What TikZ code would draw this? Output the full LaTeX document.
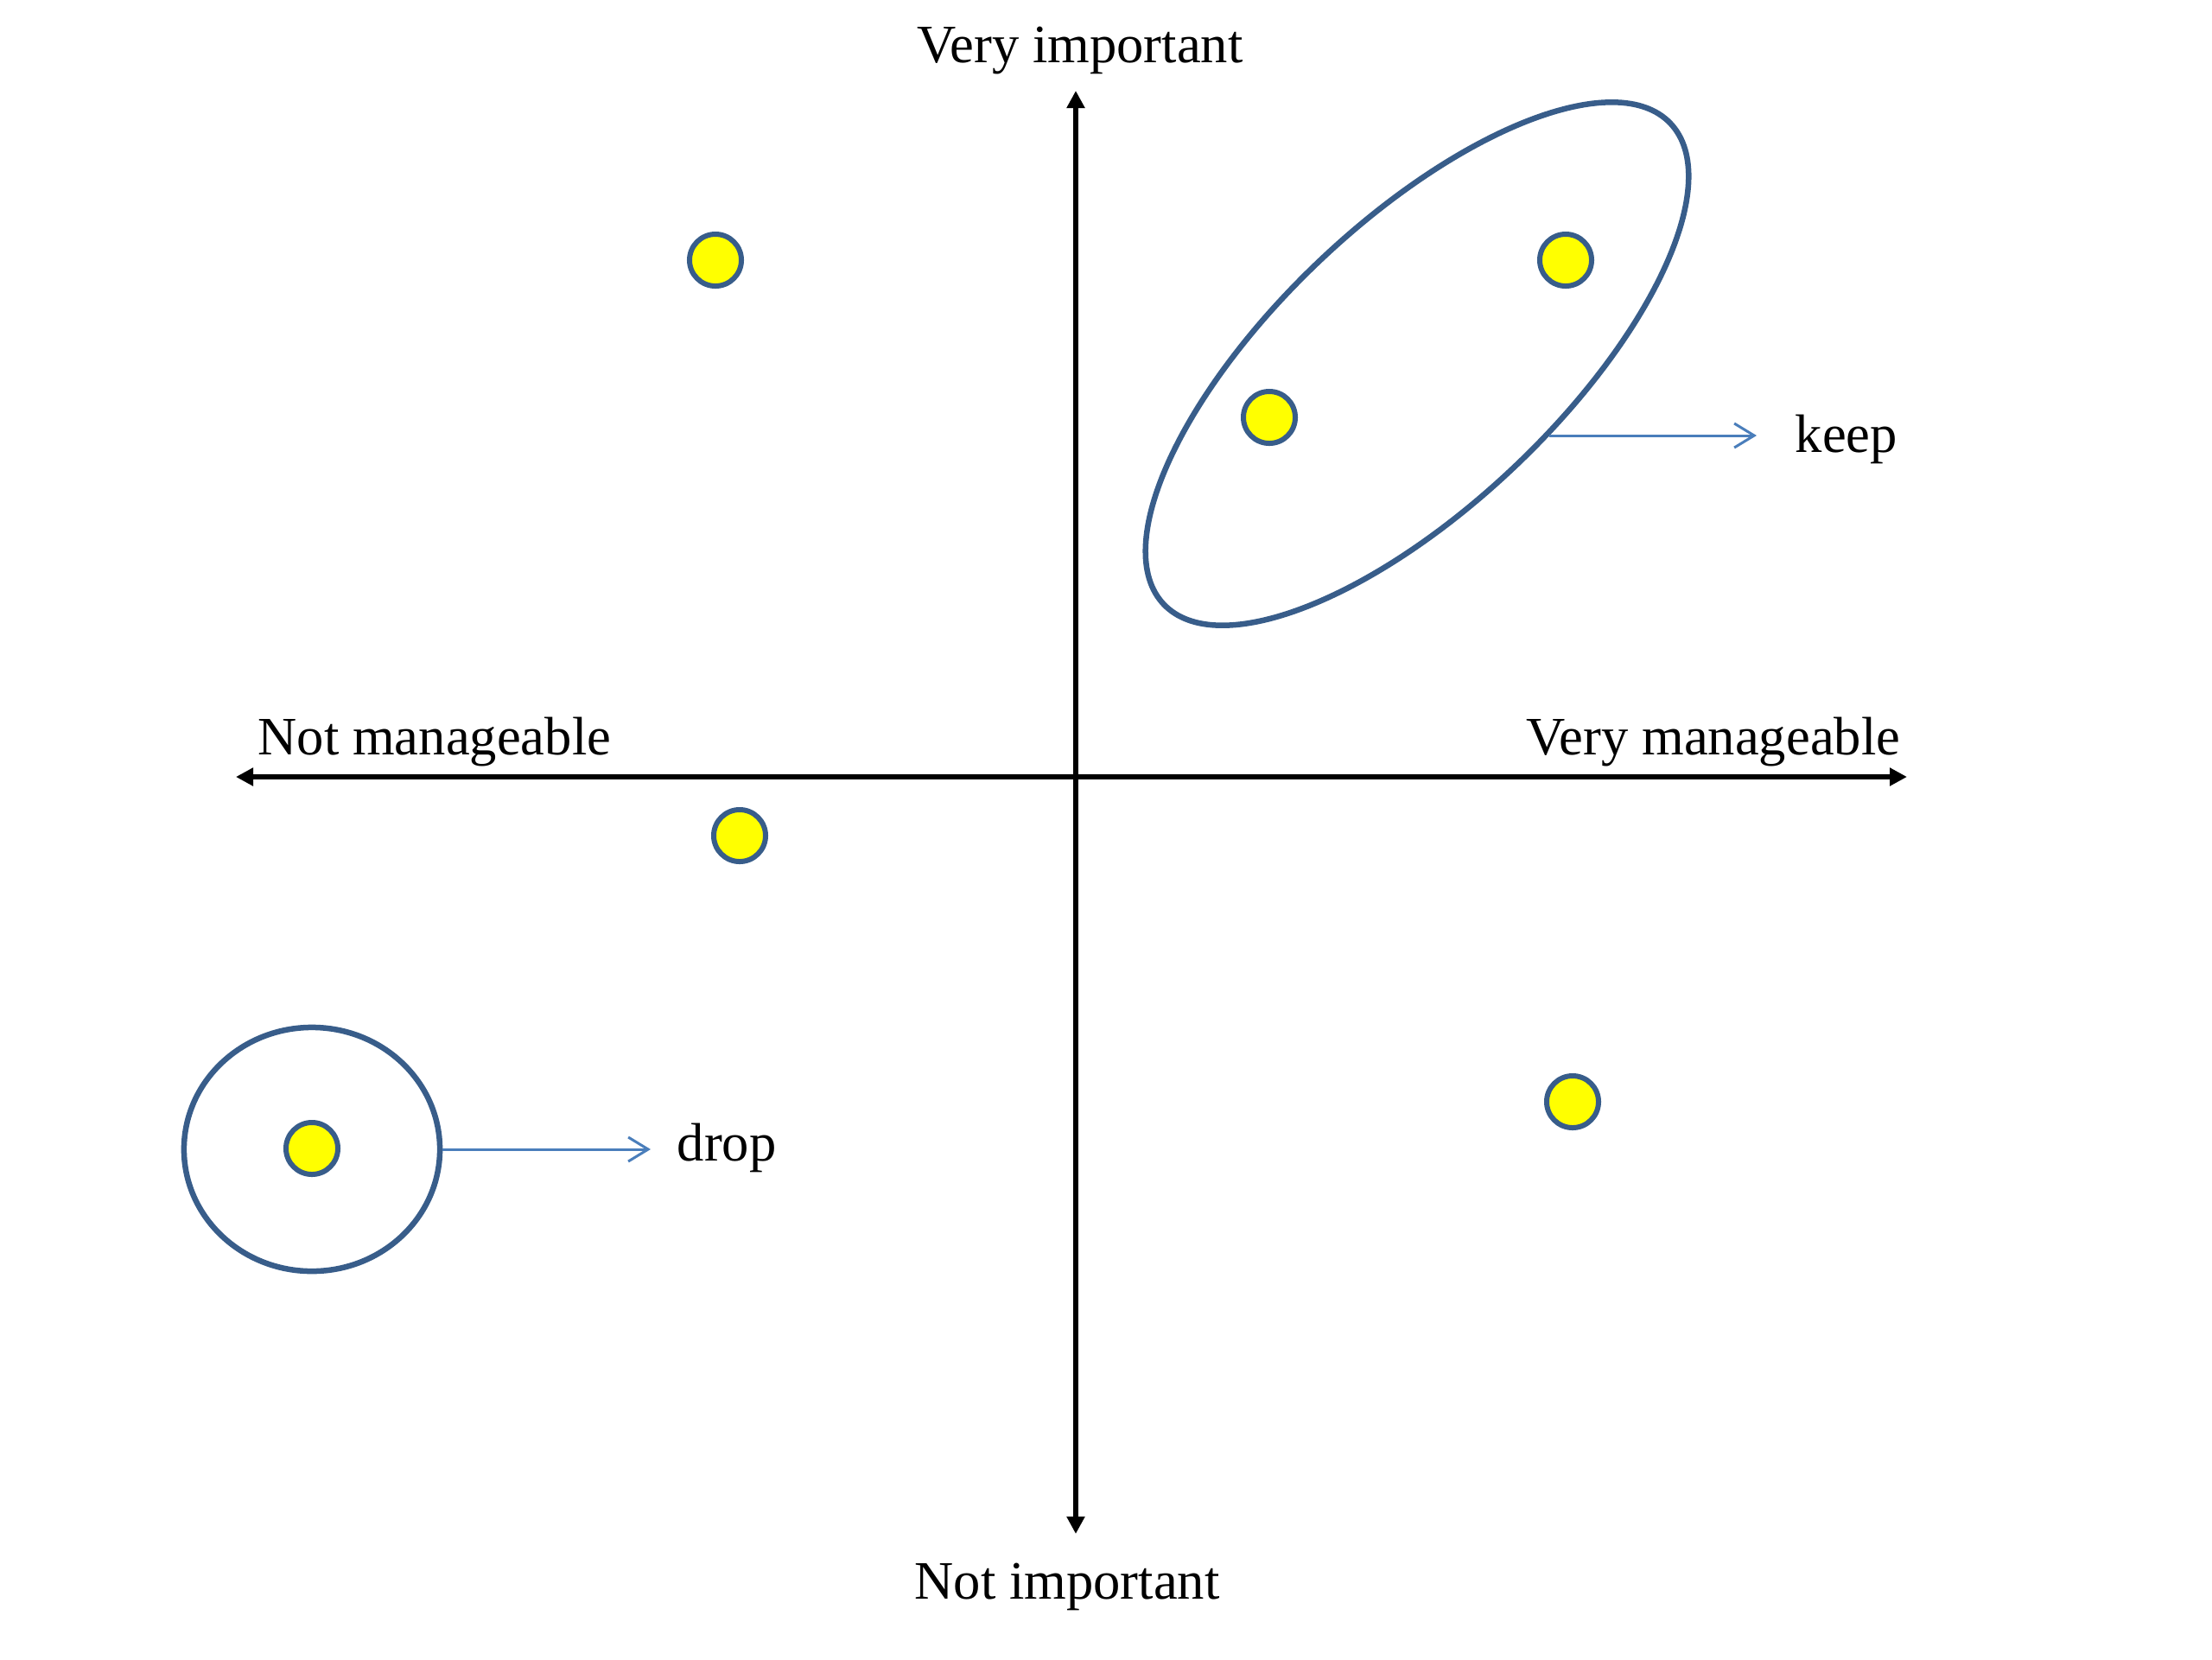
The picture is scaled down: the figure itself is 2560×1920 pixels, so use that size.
\documentclass[tikz,border=0pt]{standalone}
\usepackage{fontspec}
\setmainfont{Liberation Serif}
\usetikzlibrary{arrows.meta,shapes.geometric}
\definecolor{outl}{HTML}{385D8A}
\definecolor{conn}{HTML}{4A7EBB}
\definecolor{dotfill}{HTML}{FFFF00}
\tikzset{
  axis/.style={line width=0.055cm, black, {Triangle[length=0.2cm,width=0.2cm]}-{Triangle[length=0.2cm,width=0.2cm]}},
  dot/.style={circle, draw=outl, fill=dotfill, line width=0.06cm, minimum size=0.6cm, inner sep=0pt},
  group/.style={ellipse, draw=outl, line width=0.065cm, inner sep=0pt},
  conarrow/.style={conn, line width=0.03cm, -{Straight Barb[length=0.23cm,width=0.28cm]}},
  lbl/.style={inner sep=0pt, font=\fontsize{17.8pt}{20pt}\selectfont}
}
\begin{document}
\begin{tikzpicture}[x=0.01cm,y=-0.01cm]
\useasboundingbox (0,0) rectangle (2560,1920);
% axes
\coordinate (ytop) at (1245,105);
\coordinate (ybot) at (1245,1775);
\coordinate (xleft) at (273,899);
\coordinate (xright) at (2207,899);
\draw[axis] (xleft) -- (xright);
\draw[axis] (ybot) -- (ytop);
% axis labels
\node[lbl, anchor=base] (vimp) at (1250,72) {Very important};
\node[lbl, anchor=base] (nimp) at (1235,1850) {Not important};
\node[lbl, anchor=base west] (nman) at (298,873) {Not manageable};
\node[lbl, anchor=base east] (vman) at (2200,873) {Very manageable};
% groups
\node[group, minimum width=8.08cm, minimum height=3.28cm, rotate=43.5] (keepE) at (1640,421) {};
\node[group, minimum width=2.96cm, minimum height=2.82cm] (dropC) at (361,1330) {};
% dots
\node[dot] (d1) at (828,301) {};
\node[dot] (d2) at (1812,301) {};
\node[dot] (d3) at (1469,483) {};
\node[dot] (d4) at (856,967) {};
\node[dot] (d5) at (1820,1275) {};
\node[dot] (d6) at (361,1329) {};
% callouts
\coordinate (keepStart) at (1793,504);
\coordinate (keepTip) at (2033,504);
\draw[conarrow] (keepStart) -- (keepTip);
\node[lbl, anchor=base west] (keepT) at (2077,523) {keep};
\coordinate (dropTip) at (753,1330);
\draw[conarrow] (dropC.east) -- (dropTip);
\node[lbl, anchor=base west] (dropT) at (783,1343) {drop};
\end{tikzpicture}
\end{document}
